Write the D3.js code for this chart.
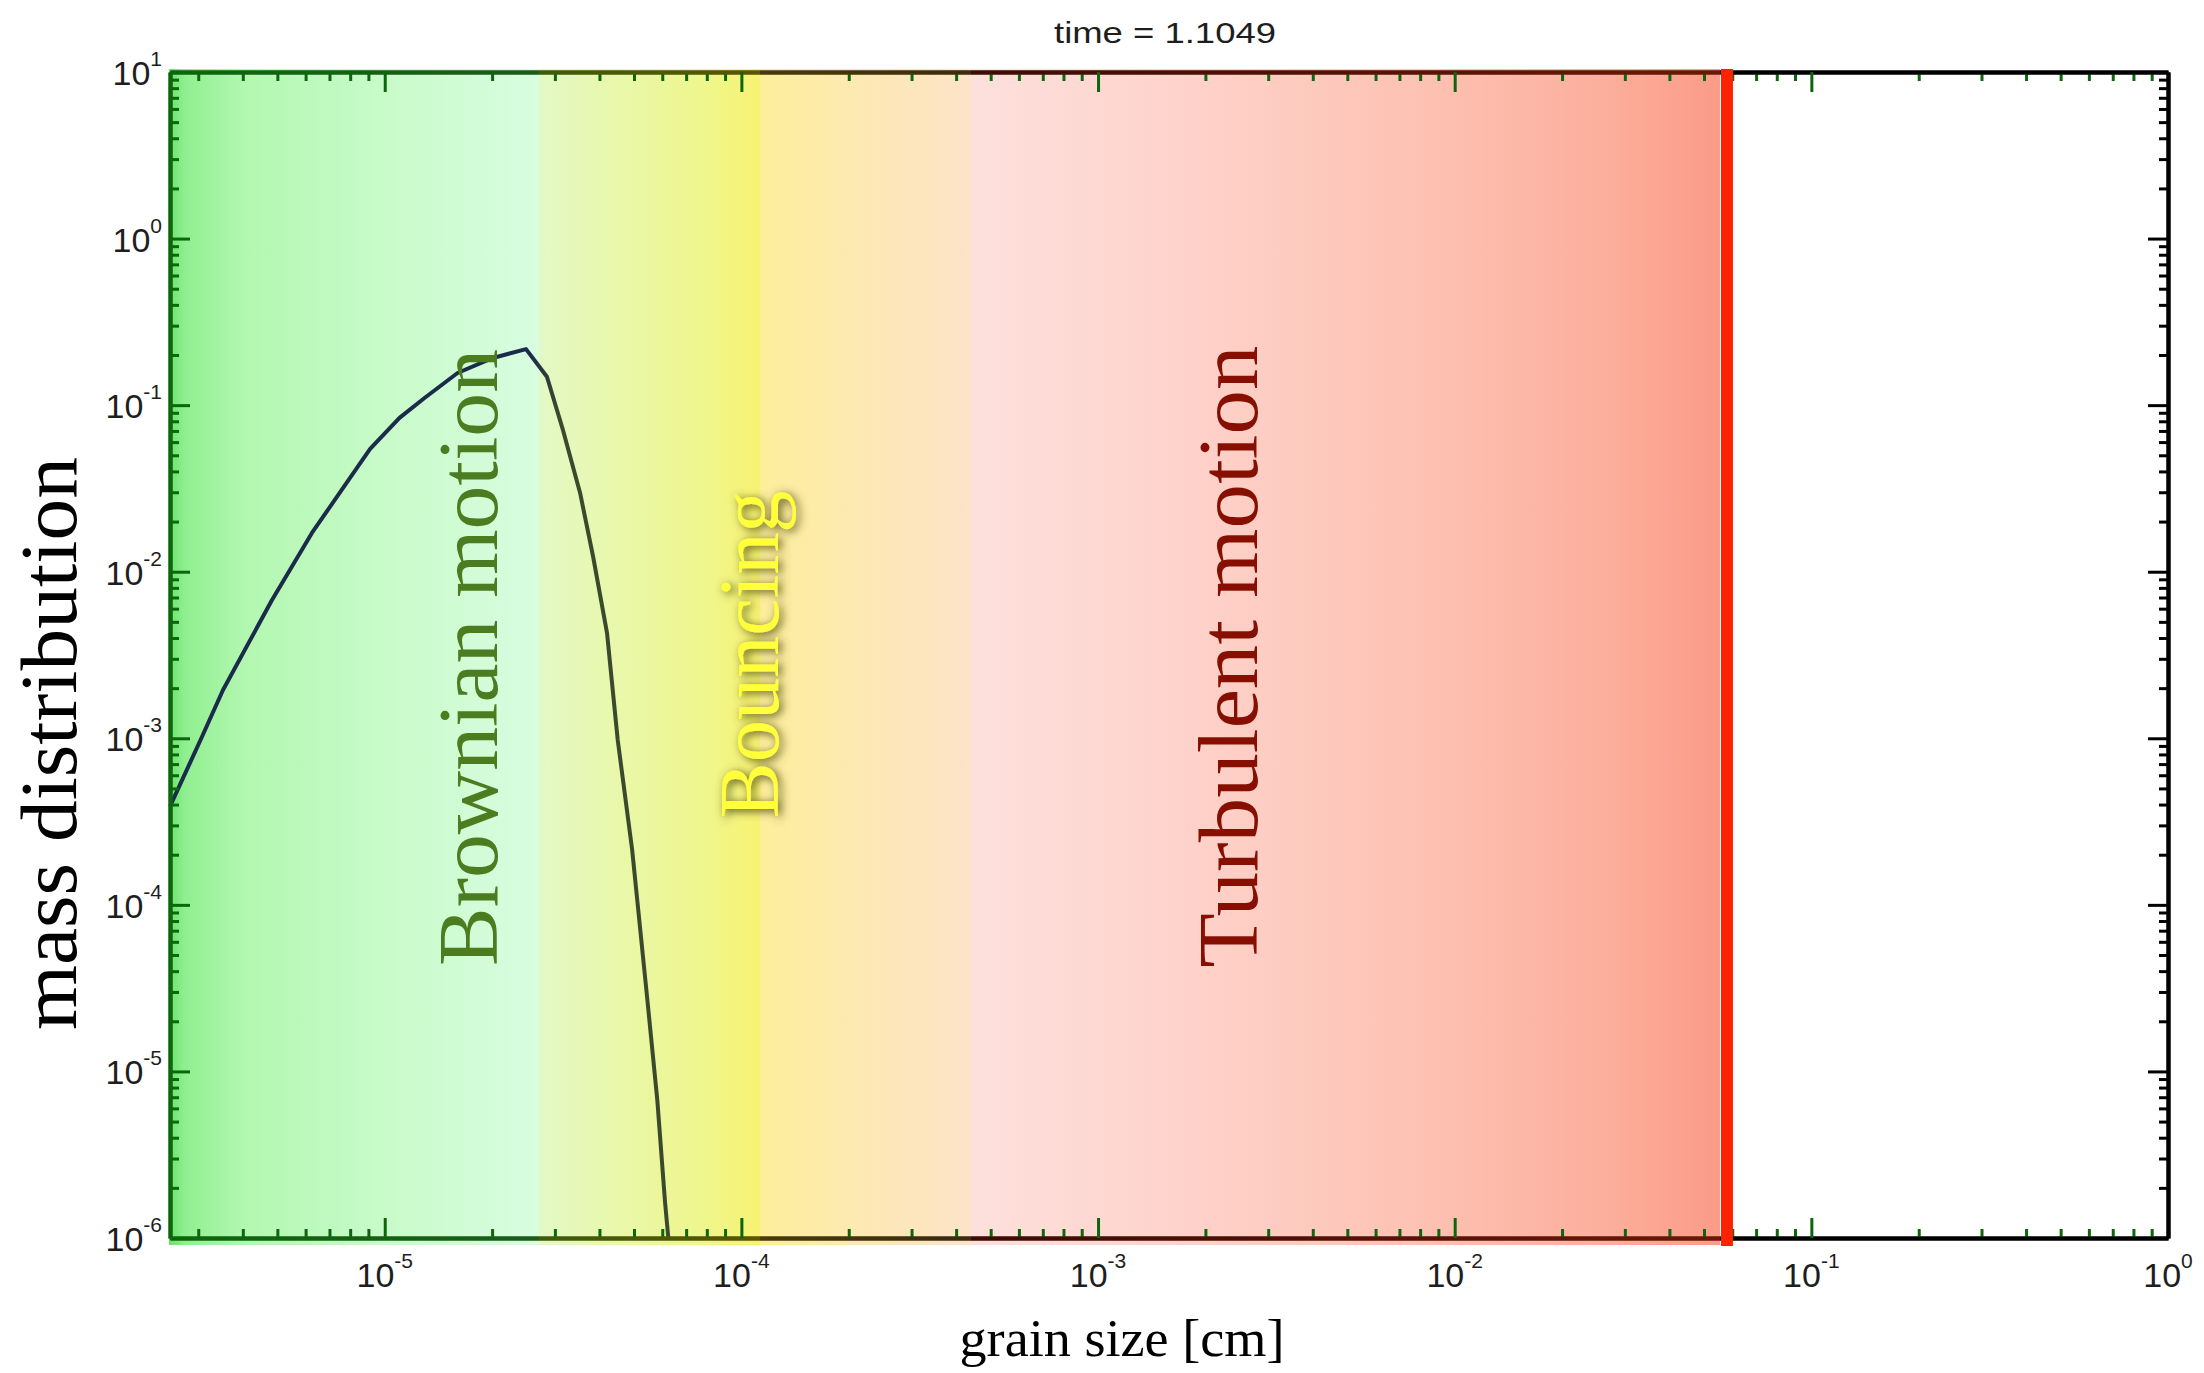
<!DOCTYPE html>
<html><head><meta charset="utf-8">
<script src="https://cdn.jsdelivr.net/npm/d3@7"></script>
<style>
html,body{margin:0;padding:0;background:#fff;}
svg{display:block;}
</style></head>
<body>
<svg id="chart" width="2204" height="1373"></svg>
<script>
(function () {
// ---------------- data ----------------
const grainSize = [2.5e-6, 3.06e-6, 3.52e-6, 4.83e-6, 6.25e-6, 9.1e-6, 1.10e-5, 1.29e-5, 1.60e-5, 2.01e-5, 2.49e-5,
                   2.85e-5, 3.16e-5, 3.53e-5, 3.84e-5, 4.2e-5, 4.5e-5, 4.94e-5, 5.45e-5, 5.81e-5, 6.11e-5, 6.24e-5];
const massDist  = [3.9e-4, 1.0e-3, 1.95e-3, 6.77e-3, 1.71e-2, 5.46e-2, 8.38e-2, 0.11, 0.156, 0.192, 0.217,
                   0.148, 7.1e-2, 2.97e-2, 1.23e-2, 4.3e-3, 9.8e-4, 2.14e-4, 2.69e-5, 6.76e-6, 1.63e-6, 1.0e-6];
const xDomain = [2.5e-6, 1];
const yDomain = [1e-6, 10];
const xMajorTicks = [1e-5, 1e-4, 1e-3, 1e-2, 1e-1, 1];
const xTickExp = ["-5", "-4", "-3", "-2", "-1", "0"];
const yMajorTicks = [1e-6, 1e-5, 1e-4, 1e-3, 1e-2, 1e-1, 1, 10];
const yTickExp = ["-6", "-5", "-4", "-3", "-2", "-1", "0", "1"];
const zoneEdges = [2.5e-6, 2.7e-5, 1.13e-4, 4.4e-4, 0.0573];   // regime boundaries [cm]
const redLineSize = 0.058;                                     // largest grain size [cm]
const zoneNames = ["Brownian motion", "Bouncing", "Turbulent motion"];
const zoneLabelAnchor = [[2.07e-5, 4.3e-5], [1.27e-4, 3.3e-4], [2.79e-3, 4.2e-5]]; // [x, y] start of rotated text
const titleText = "time = 1.1049";
const xTitle = "grain size [cm]";
const yTitle = "mass distribution";

// ---------------- styles ----------------
const zoneColors = [
  [[0, '#6ce36c'], [0.04, '#90ef90'], [0.2, '#b2f7b0'], [0.6, '#c9fbca'], [1, '#d8fde0']],
  [[0, '#e3f9c6'], [0.75, '#eff68c'], [1, '#f7f272']],
  [[0, '#fdee9a'], [0.45, '#fde9b2'], [1, '#fde3c8']],
  [[0, '#fde0dc'], [0.25, '#fed4cd'], [0.6, '#fdc2b3'], [0.85, '#fcae9c'], [1, '#fb9b87']]
];
const zoneAxisColors = [['#0c660c', '#1d5a1a'], ['#3f5a0c', '#5a5500'], ['#4a3a08', '#3a2a10'], ['#3a0c04', '#6a1808']];
const labelColors = ['#4b7c1f', '#ffff3a', '#860f02'];

const svg = d3.select('#chart');
const W = 2204;
const x = d3.scaleLog().domain(xDomain).range([170, 2168]);
const y = d3.scaleLog().domain(yDomain).range([1238, 72]);

const defs = svg.append('defs');
const redX = x(redLineSize);
const bgRight = redX - 7;

// background gradient
const gx0 = x.range()[0], gx1 = bgRight;
const bg = defs.append('linearGradient').attr('id', 'bgGrad')
  .attr('gradientUnits', 'userSpaceOnUse').attr('x1', gx0).attr('x2', gx1).attr('y1', 0).attr('y2', 0);
zoneColors.forEach((stops, i) => {
  const p0 = x(zoneEdges[i]), p1 = Math.min(x(zoneEdges[i + 1]), bgRight);
  stops.forEach(([fr, c]) => {
    bg.append('stop').attr('offset', Math.max(0, Math.min(1, (p0 + fr * (p1 - p0) - gx0) / (gx1 - gx0)))).attr('stop-color', c);
  });
});

// axis tint gradient
const ag = defs.append('linearGradient').attr('id', 'axGrad')
  .attr('gradientUnits', 'userSpaceOnUse').attr('x1', 0).attr('x2', W).attr('y1', 0).attr('y2', 0);
zoneAxisColors.forEach((cs, i) => {
  const p0 = x(zoneEdges[i]), p1 = Math.min(x(zoneEdges[i + 1]), bgRight);
  ag.append('stop').attr('offset', p0 / W).attr('stop-color', cs[0]);
  ag.append('stop').attr('offset', p1 / W).attr('stop-color', cs[1]);
});
ag.append('stop').attr('offset', bgRight / W).attr('stop-color', '#000');
ag.append('stop').attr('offset', 1).attr('stop-color', '#000');

// curve gradient
const cg = defs.append('linearGradient').attr('id', 'curveGrad')
  .attr('gradientUnits', 'userSpaceOnUse').attr('x1', 0).attr('x2', W).attr('y1', 0).attr('y2', 0);
[[x(zoneEdges[1]) - 8, '#1b2c4b'], [x(zoneEdges[1]) + 20, '#3b4a2c']].forEach(([p, c]) =>
  cg.append('stop').attr('offset', p / W).attr('stop-color', c));

// glow filter for Bouncing
const flt = defs.append('filter').attr('id', 'glow').attr('x', '-30%').attr('y', '-10%').attr('width', '160%').attr('height', '120%');
flt.append('feDropShadow').attr('dx', 3).attr('dy', 2).attr('stdDeviation', 5)
  .attr('flood-color', '#4a4710').attr('flood-opacity', 0.95);

const pBottom = y.range()[0], pTop = y.range()[1], pLeft = x.range()[0], pRight = x.range()[1];

// background
svg.append('rect').attr('x', pLeft - 1).attr('y', pTop - 3)
  .attr('width', bgRight - pLeft + 1).attr('height', pBottom - pTop + 10)
  .attr('fill', 'url(#bgGrad)');

// curve
svg.append('path')
  .datum(grainSize.map((g, i) => [g, massDist[i]]))
  .attr('fill', 'none').attr('stroke', 'url(#curveGrad)').attr('stroke-width', 4)
  .attr('stroke-linejoin', 'round')
  .attr('d', d3.line().x(d => x(d[0])).y(d => y(d[1])));

// axes
const isMajor = d => Math.abs(Math.log10(d) - Math.round(Math.log10(d))) < 1e-6;
const xMinor = x.ticks().filter(d => !isMajor(d));
const yMinor = y.ticks().filter(d => !isMajor(d));

function addAxis(axisFn, scale, ticks, size, transform, color) {
  const ax = axisFn(scale).tickValues(ticks).tickSizeInner(-size).tickSizeOuter(0).tickFormat('');
  const g = svg.append('g').attr('transform', transform).call(ax);
  g.select('.domain').attr('stroke', color).attr('stroke-width', 4);
  g.selectAll('.tick line').attr('stroke', color).attr('stroke-width', 3);
  g.selectAll('.tick text').remove();
  return g;
}

// minor
addAxis(d3.axisBottom, x, xMinor, 9, `translate(0,${pBottom})`, 'url(#axGrad)');
addAxis(d3.axisTop, x, xMinor, 9, `translate(0,${pTop})`, 'url(#axGrad)');
addAxis(d3.axisLeft, y, yMinor, 9, `translate(${pLeft},0)`, '#0c660c');
addAxis(d3.axisRight, y, yMinor, 9, `translate(${pRight},0)`, '#000');
// major
addAxis(d3.axisBottom, x, xMajorTicks, 20, `translate(0,${pBottom})`, 'url(#axGrad)');
addAxis(d3.axisTop, x, xMajorTicks, 20, `translate(0,${pTop})`, 'url(#axGrad)');
addAxis(d3.axisLeft, y, yMajorTicks, 20, `translate(${pLeft},0)`, '#0c660c');
addAxis(d3.axisRight, y, yMajorTicks, 20, `translate(${pRight},0)`, '#000');

// tick labels
function powLabel(sel, exp) {
  sel.append('tspan').text('10');
  sel.append('tspan').attr('dy', -19).attr('font-size', 21).text(exp);
}
const labFont = "'Liberation Sans', Arial, Helvetica, sans-serif";
svg.append('g').selectAll('text').data(xMajorTicks).join('text')
  .attr('x', d => x(d)).attr('y', pBottom + 49)
  .attr('text-anchor', 'middle').attr('font-family', labFont).attr('font-size', 34).attr('fill', '#1e1e1e')
  .each(function (d, i) { powLabel(d3.select(this), xTickExp[i]); });
svg.append('g').selectAll('text').data(yMajorTicks).join('text')
  .attr('x', pLeft - 8).attr('y', d => y(d) + 13)
  .attr('text-anchor', 'end').attr('font-family', labFont).attr('font-size', 34).attr('fill', '#1e1e1e')
  .each(function (d, i) { powLabel(d3.select(this), yTickExp[i]); });

// red line
svg.append('line').attr('x1', redX).attr('x2', redX).attr('y1', pTop - 3).attr('y2', pBottom + 8)
  .attr('stroke', '#ff2200').attr('stroke-width', 12);

// zone labels
const serif = "'Liberation Serif', 'Times New Roman', serif";
const zoneLen = [617, 328, 622];
zoneNames.forEach((name, i) => {
  const g = svg.append('g');
  if (i === 1) g.attr('filter', 'url(#glow)');
  g.append('text')
    .attr('transform', `translate(${x(zoneLabelAnchor[i][0])},${y(zoneLabelAnchor[i][1])}) rotate(-90)`)
    .attr('font-family', serif).attr('font-size', 84).attr('fill', labelColors[i])
    .attr('textLength', zoneLen[i]).attr('lengthAdjust', 'spacingAndGlyphs')
    .text(name);
});

// titles
svg.append('text').attr('x', 1165).attr('y', 43).attr('text-anchor', 'middle')
  .attr('font-family', labFont).attr('font-size', 30).attr('fill', '#1e1e1e')
  .attr('textLength', 222).attr('lengthAdjust', 'spacingAndGlyphs').text(titleText);
svg.append('text').attr('x', (pLeft + pRight) / 2 - 47).attr('y', 1356).attr('text-anchor', 'middle')
  .attr('font-family', serif).attr('font-size', 53).attr('fill', '#000')
  .attr('textLength', 325).attr('lengthAdjust', 'spacingAndGlyphs').text(xTitle);
svg.append('text').attr('transform', `translate(76,1030) rotate(-90)`)
  .attr('font-family', serif).attr('font-size', 80).attr('fill', '#000')
  .attr('textLength', 573).attr('lengthAdjust', 'spacingAndGlyphs').text(yTitle);
})();
</script>
</body></html>
